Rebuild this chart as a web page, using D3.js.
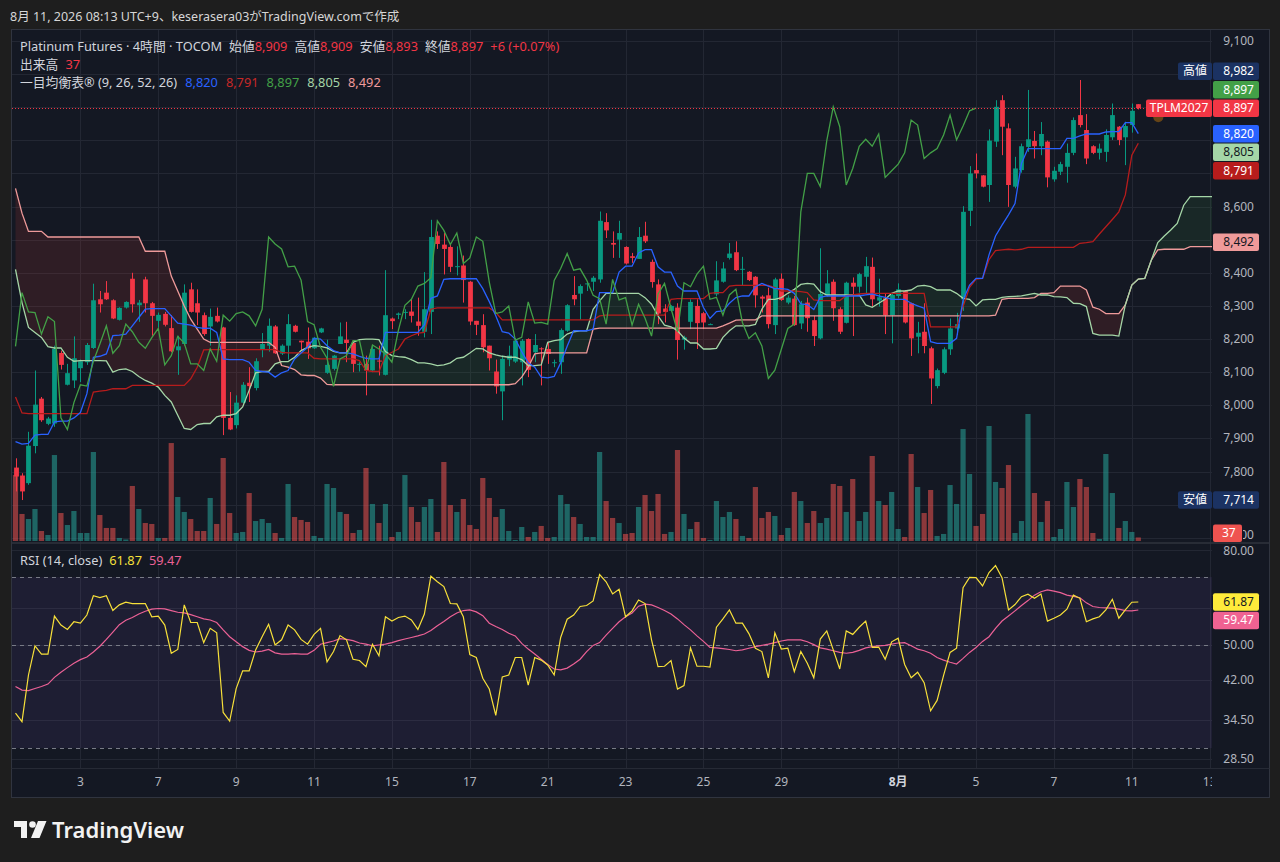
<!DOCTYPE html>
<html lang="ja">
<head>
<meta charset="utf-8">
<title>Platinum Futures 4h</title>
<script src="https://cdn.jsdelivr.net/npm/d3@7/dist/d3.min.js"></script>
<style>
  html, body { margin: 0; padding: 0; background: #1e1e1e; }
  svg { display: block; }
  text { font-family: "Noto Sans", "Noto Sans CJK JP", sans-serif; }
</style>
</head>
<body>
<svg id="chart" width="1280" height="862"></svg>
<script>
// ---- values, one entry per 4h bar (index 0 = first visible bar) ----
var opens = [
  7812, 7788, 7765, 7877, 8020, 7944, 7945, 8158, 8062, 8075,
  8112, 8130, 8173, 8320, 8340, 8317, 8258, 8295, 8382, 8302,
  8380, 8308, 8255, 8276, 8233, 8166, 8185, 8350, 8308, 8272,
  8238, 8270, 8235, 7962, 7940, 8008, 8068, 8052, 8168, 8180,
  8238, 8156, 8180, 8240, 8195, 8192, 8172, 8220, 8098, 8110,
  8185, 8198, 8188, 8122, 8125, 8105, 8135, 8092, 8262, 8273,
  8280, 8283, 8253, 8222, 8282, 8512, 8485, 8478, 8418, 8422,
  8373, 8255, 8242, 8180, 8102, 8042, 8138, 8132, 8130, 8200,
  8160, 8172, 8170, 8128, 8130, 8225, 8333, 8337, 8366, 8373,
  8380, 8553, 8490, 8500, 8478, 8450, 8442, 8512, 8433, 8365,
  8292, 8285, 8295, 8198, 8252, 8300, 8278, 8245, 8335, 8373,
  8445, 8462, 8410, 8403, 8388, 8328, 8332, 8242, 8382, 8310,
  8322, 8247, 8310, 8257, 8202, 8333, 8373, 8290, 8249, 8370,
  8358, 8388, 8418, 8316, 8323, 8272, 8330, 8345, 8308, 8207,
  8222, 8172, 8058, 8098, 8169, 8232, 8320, 8587, 8710, 8694,
  8665, 8796, 8921, 8836, 8660, 8710, 8780, 8798, 8782, 8796,
  8682, 8705, 8720, 8762, 8876, 8831, 8782, 8762, 8765, 8809,
  8841, 8809, 8846, 8909
];
var highs = [
  7840, 7795, 7920, 8105, 8025, 7965, 8180, 8165, 8125, 8208,
  8138, 8188, 8367, 8345, 8375, 8320, 8296, 8314, 8400, 8318,
  8388, 8312, 8280, 8282, 8272, 8210, 8365, 8370, 8350, 8280,
  8292, 8295, 8237, 8040, 8030, 8070, 8115, 8142, 8218, 8262,
  8242, 8184, 8275, 8243, 8195, 8235, 8206, 8234, 8198, 8152,
  8250, 8252, 8192, 8130, 8150, 8180, 8180, 8408, 8265, 8280,
  8290, 8320, 8325, 8402, 8560, 8525, 8520, 8485, 8480, 8452,
  8375, 8255, 8275, 8180, 8138, 8150, 8180, 8202, 8200, 8202,
  8215, 8175, 8190, 8138, 8232, 8305, 8390, 8365, 8375, 8390,
  8585, 8580, 8525, 8557, 8480, 8460, 8538, 8554, 8440, 8380,
  8305, 8302, 8308, 8210, 8320, 8320, 8282, 8247, 8435, 8432,
  8490, 8495, 8448, 8405, 8390, 8332, 8355, 8385, 8398, 8332,
  8330, 8315, 8325, 8270, 8474, 8408, 8380, 8296, 8373, 8386,
  8400, 8448, 8446, 8382, 8338, 8338, 8368, 8348, 8310, 8252,
  8308, 8177, 8111, 8175, 8262, 8279, 8601, 8722, 8760, 8695,
  8833, 8921, 8936, 8851, 8750, 8790, 8952, 8828, 8855, 8799,
  8720, 8735, 8790, 8869, 8982, 8879, 8785, 8790, 8833, 8911,
  8843, 8856, 8911, 8909
];
var lows = [
  7740, 7714, 7760, 7855, 7950, 7940, 7935, 8108, 8060, 8052,
  8070, 8122, 8170, 8280, 8318, 8260, 8256, 8292, 8280, 8252,
  8280, 8210, 8235, 8238, 8160, 8092, 8180, 8280, 8242, 8210,
  8180, 8250, 7910, 7925, 7930, 8005, 8010, 8045, 8145, 8162,
  8155, 8152, 8138, 8220, 8165, 8140, 8170, 8218, 8095, 8105,
  8185, 8130, 8100, 8102, 8030, 8100, 8090, 8090, 8230, 8260,
  8260, 8250, 8210, 8205, 8215, 8472, 8395, 8402, 8392, 8310,
  8242, 8212, 8160, 8105, 8035, 7955, 8118, 8128, 8060, 8085,
  8130, 8060, 8125, 8115, 8095, 8222, 8302, 8258, 8345, 8345,
  8370, 8505, 8445, 8445, 8425, 8430, 8442, 8490, 8355, 8245,
  8250, 8282, 8138, 8168, 8230, 8170, 8230, 8243, 8330, 8370,
  8440, 8405, 8362, 8375, 8295, 8280, 8232, 8215, 8315, 8305,
  8240, 8230, 8222, 8179, 8199, 8328, 8255, 8215, 8247, 8209,
  8340, 8338, 8298, 8298, 8215, 8187, 8323, 8247, 8149, 8157,
  8157, 8004, 8051, 8094, 8152, 8212, 8285, 8541, 8685, 8658,
  8614, 8780, 8755, 8599, 8655, 8702, 8765, 8745, 8755, 8658,
  8675, 8695, 8672, 8755, 8839, 8728, 8758, 8742, 8735, 8801,
  8785, 8725, 8823, 8893
];
var closes = [
  7785, 7740, 7878, 8002, 7955, 7960, 8170, 8122, 8097, 8142,
  8133, 8182, 8317, 8305, 8320, 8262, 8294, 8312, 8305, 8310,
  8308, 8270, 8273, 8243, 8163, 8178, 8340, 8282, 8280, 8215,
  8267, 8253, 7962, 7927, 8008, 8062, 8058, 8133, 8185, 8240,
  8157, 8180, 8245, 8222, 8190, 8172, 8204, 8232, 8122, 8150,
  8208, 8188, 8125, 8125, 8105, 8170, 8133, 8272, 8254, 8277,
  8282, 8270, 8240, 8290, 8508, 8487, 8472, 8418, 8420, 8378,
  8253, 8243, 8175, 8142, 8057, 8140, 8150, 8195, 8195, 8107,
  8182, 8170, 8155, 8130, 8227, 8302, 8320, 8360, 8368, 8385,
  8557, 8528, 8485, 8520, 8428, 8445, 8508, 8495, 8372, 8277,
  8282, 8300, 8197, 8205, 8312, 8248, 8250, 8245, 8377, 8413,
  8458, 8408, 8412, 8378, 8332, 8322, 8245, 8380, 8318, 8325,
  8242, 8305, 8263, 8209, 8336, 8368, 8293, 8222, 8370, 8358,
  8396, 8420, 8320, 8326, 8272, 8333, 8350, 8250, 8202, 8219,
  8179, 8081, 8106, 8169, 8232, 8245, 8584, 8700, 8700, 8660,
  8799, 8901, 8841, 8665, 8715, 8782, 8803, 8782, 8819, 8688,
  8708, 8728, 8762, 8861, 8846, 8745, 8762, 8775, 8816, 8876,
  8801, 8843, 8889, 8897
];
var volumes = [
  693, 284, 231, 336, 105, 63, 903, 294, 168, 315,
  84, 84, 935, 273, 137, 137, 32, 16, 578, 336,
  189, 179, 32, 32, 1029, 462, 305, 231, 105, 105,
  452, 179, 872, 294, 84, 95, 504, 210, 231, 189,
  84, 32, 599, 252, 221, 200, 53, 32, 599, 557,
  305, 284, 84, 116, 767, 389, 189, 389, 42, 95,
  693, 357, 200, 357, 441, 95, 830, 378, 305, 441,
  168, 126, 662, 452, 252, 336, 105, 11, 147, 42,
  95, 158, 32, 42, 483, 389, 252, 179, 42, 42,
  935, 420, 242, 189, 74, 84, 357, 483, 315, 494,
  74, 95, 956, 284, 126, 200, 32, 11, 420, 252,
  305, 231, 53, 32, 567, 242, 305, 263, 63, 137,
  515, 420, 189, 315, 189, 242, 599, 578, 305, 651,
  210, 305, 893, 420, 378, 515, 126, 42, 914, 567,
  294, 536, 53, 74, 588, 389, 1176, 704, 158, 284,
  1208, 620, 557, 798, 84, 210, 1334, 504, 200, 420,
  42, 126, 620, 357, 651, 567, 84, 21, 914, 504,
  137, 210, 95, 37
];
// Ichimoku (9, 26, 52, 26): conversion / base lines per bar
var tenkan = [
  7890, 7883, 7885, 7910, 7912, 7912, 7950, 7952, 7952, 7962,
  7978, 8035, 8145, 8148, 8155, 8210, 8212, 8215, 8240, 8265,
  8290, 8292, 8292, 8292, 8270, 8248, 8245, 8242, 8235, 8232,
  8233, 8220, 8140, 8138, 8138, 8138, 8130, 8105, 8102, 8100,
  8085, 8098, 8105, 8140, 8158, 8175, 8202, 8200, 8180, 8165,
  8158, 8158, 8155, 8148, 8142, 8140, 8140, 8220, 8220, 8220,
  8220, 8220, 8220, 8243, 8323, 8330, 8380, 8382, 8382, 8382,
  8382, 8382, 8352, 8313, 8270, 8222, 8218, 8200, 8162, 8128,
  8115, 8085, 8083, 8087, 8128, 8178, 8225, 8225, 8225, 8230,
  8340, 8340, 8340, 8402, 8420, 8420, 8460, 8470, 8470, 8418,
  8402, 8402, 8360, 8345, 8345, 8345, 8295, 8262, 8283, 8285,
  8308, 8325, 8330, 8330, 8358, 8368, 8360, 8352, 8352, 8350,
  8338, 8306, 8304, 8289, 8326, 8330, 8330, 8330, 8330, 8330,
  8330, 8333, 8336, 8330, 8326, 8320, 8320, 8320, 8308, 8300,
  8293, 8192, 8187, 8187, 8187, 8202, 8318, 8363, 8383, 8383,
  8454, 8511, 8544, 8575, 8609, 8730, 8775, 8775, 8775, 8775,
  8775, 8775, 8806, 8806, 8813, 8819, 8819, 8819, 8825, 8826,
  8826, 8853, 8853, 8820
];
var kijun = [
  8025, 7977, 7975, 7975, 7975, 7975, 7975, 7975, 7975, 7975,
  7975, 7975, 8040, 8043, 8045, 8050, 8050, 8050, 8060, 8060,
  8060, 8060, 8060, 8060, 8060, 8060, 8060, 8080, 8115, 8167,
  8168, 8168, 8168, 8168, 8168, 8168, 8168, 8168, 8168, 8168,
  8168, 8160, 8158, 8158, 8158, 8158, 8142, 8140, 8140, 8140,
  8140, 8140, 8140, 8135, 8105, 8102, 8102, 8150, 8160, 8170,
  8200, 8210, 8218, 8220, 8290, 8294, 8294, 8294, 8294, 8294,
  8294, 8294, 8294, 8294, 8280, 8258, 8258, 8258, 8258, 8258,
  8258, 8258, 8258, 8258, 8258, 8258, 8258, 8258, 8258, 8258,
  8270, 8272, 8272, 8272, 8272, 8272, 8272, 8272, 8272, 8272,
  8272, 8320, 8322, 8322, 8322, 8322, 8322, 8338, 8340, 8340,
  8360, 8362, 8362, 8362, 8362, 8362, 8362, 8355, 8345, 8345,
  8345, 8343, 8340, 8318, 8316, 8316, 8316, 8316, 8331, 8333,
  8336, 8338, 8338, 8338, 8338, 8338, 8338, 8338, 8338, 8338,
  8338, 8237, 8237, 8237, 8237, 8237, 8298, 8356, 8381, 8383,
  8440, 8467, 8469, 8471, 8469, 8471, 8477, 8477, 8477, 8477,
  8477, 8477, 8477, 8477, 8489, 8491, 8494, 8517, 8539, 8561,
  8584, 8635, 8755, 8791
];
// leading spans as plotted (already displaced 26 bars forward), indices 0..185
var spanA = [
  8410, 8310, 8235, 8220, 8205, 8177, 8173, 8173, 8145, 8133,
  8135, 8135, 8135, 8135, 8134, 8100, 8108, 8110, 8102, 8087,
  8075, 8067, 8055, 8030, 8010, 7970, 7930, 7927, 7942, 7945,
  7945, 7965, 7970, 7970, 7975, 7995, 8045, 8098, 8102, 8102,
  8125, 8132, 8132, 8145, 8165, 8175, 8180, 8178, 8173, 8163,
  8158, 8158, 8190, 8198, 8200, 8200, 8198, 8162, 8150, 8147,
  8145, 8138, 8128, 8128, 8125, 8120, 8122, 8128, 8142, 8145,
  8158, 8172, 8170, 8158, 8152, 8148, 8145, 8145, 8138, 8120,
  8120, 8122, 8190, 8195, 8198, 8215, 8222, 8225, 8225, 8290,
  8315, 8338, 8338, 8338, 8338, 8338, 8338, 8325, 8305, 8270,
  8242, 8237, 8225, 8203, 8188, 8188, 8170, 8170, 8172, 8205,
  8225, 8240, 8240, 8240, 8244, 8290, 8320, 8320, 8325, 8338,
  8350, 8365, 8368, 8366, 8343, 8333, 8333, 8333, 8333, 8333,
  8333, 8303, 8296, 8308, 8320, 8338, 8345, 8345, 8348, 8360,
  8362, 8358, 8348, 8348, 8348, 8338, 8323, 8320, 8300, 8318,
  8320, 8320, 8326, 8328, 8329, 8330, 8334, 8338, 8333, 8333,
  8328, 8327, 8325, 8308, 8307, 8298, 8217, 8212, 8212, 8212,
  8209, 8303, 8363, 8381, 8383, 8438, 8491, 8511, 8529, 8549,
  8604, 8630, 8630, 8630, 8630, 8630
];
var spanB = [
  8655, 8580, 8525, 8525, 8525, 8508, 8508, 8508, 8508, 8508,
  8508, 8508, 8508, 8508, 8508, 8508, 8508, 8508, 8508, 8508,
  8465, 8465, 8465, 8465, 8390, 8345, 8300, 8260, 8230, 8200,
  8190, 8190, 8190, 8190, 8190, 8190, 8190, 8190, 8190, 8190,
  8175, 8120, 8115, 8108, 8092, 8090, 8090, 8082, 8063, 8062,
  8062, 8062, 8062, 8062, 8062, 8062, 8062, 8062, 8062, 8062,
  8062, 8062, 8062, 8062, 8062, 8062, 8062, 8062, 8062, 8062,
  8062, 8062, 8062, 8062, 8062, 8062, 8062, 8065, 8085, 8115,
  8155, 8158, 8158, 8158, 8158, 8158, 8158, 8158, 8158, 8230,
  8233, 8233, 8233, 8233, 8233, 8233, 8233, 8233, 8233, 8233,
  8233, 8233, 8233, 8233, 8233, 8233, 8233, 8233, 8233, 8240,
  8248, 8257, 8258, 8258, 8258, 8270, 8270, 8270, 8270, 8270,
  8270, 8270, 8270, 8270, 8270, 8270, 8270, 8270, 8270, 8270,
  8270, 8270, 8270, 8270, 8270, 8270, 8270, 8270, 8270, 8270,
  8270, 8270, 8270, 8270, 8270, 8270, 8270, 8270, 8270, 8270,
  8270, 8272, 8320, 8323, 8323, 8323, 8323, 8325, 8338, 8338,
  8340, 8360, 8360, 8360, 8360, 8348, 8296, 8290, 8277, 8277,
  8277, 8303, 8363, 8381, 8383, 8438, 8469, 8471, 8471, 8471,
  8471, 8479, 8479, 8479, 8479, 8479
];
var chikouShift = 25;          // lagging span drawn 25 bars back
var spanALast = 8805, spanBLast = 8492;   // current (off-screen) leading span values from the legend

// RSI (14, close) and its 14-bar moving average
var rsi = [
  35.7, 34.2, 43.1, 49.8, 47.8, 47.8, 57.7, 55.2, 54.0, 56.1,
  55.7, 58.0, 63.8, 63.2, 63.8, 59.3, 61.0, 61.8, 61.4, 61.4,
  61.4, 57.5, 57.7, 55.2, 48.0, 48.9, 61.0, 55.9, 55.9, 50.6,
  54.3, 53.1, 35.8, 34.3, 40.3, 44.0, 44.0, 48.8, 52.1, 55.4,
  50.0, 51.3, 55.2, 53.9, 51.4, 50.2, 52.7, 54.3, 46.0, 48.4,
  52.4, 51.3, 46.6, 46.3, 44.9, 50.2, 47.4, 57.5, 56.3, 57.3,
  57.7, 56.6, 54.0, 58.3, 70.3, 68.4, 66.8, 61.4, 61.3, 57.5,
  47.7, 47.0, 42.4, 40.2, 35.3, 42.7, 43.1, 47.0, 47.0, 41.0,
  47.0, 46.4, 45.3, 43.1, 51.9, 56.8, 58.0, 60.5, 60.8, 62.2,
  70.9, 68.4, 64.4, 65.9, 57.5, 59.2, 62.5, 61.4, 51.3, 44.9,
  45.0, 46.3, 40.2, 40.9, 49.3, 45.0, 45.0, 44.8, 54.6, 56.9,
  59.5, 55.7, 55.7, 52.9, 49.2, 48.4, 42.5, 53.1, 49.0, 49.2,
  43.8, 48.4, 45.7, 42.5, 51.5, 53.6, 48.8, 44.4, 53.6, 52.7,
  54.6, 56.3, 49.4, 49.5, 46.6, 50.8, 51.7, 45.4, 42.5, 43.7,
  41.5, 36.1, 38.0, 43.0, 48.2, 49.2, 66.4, 69.9, 69.8, 67.0,
  71.6, 74.1, 69.8, 59.5, 61.1, 63.5, 64.3, 63.0, 64.4, 56.3,
  57.1, 58.0, 59.7, 64.0, 63.0, 56.1, 56.9, 57.5, 59.5, 62.7,
  57.1, 59.5, 61.8, 61.87
];
var rsiMa = [
  40.7, 40.0, 39.9, 40.3, 40.7, 41.2, 42.6, 43.7, 44.7, 45.7,
  46.5, 47.1, 48.3, 49.7, 51.4, 53.3, 55.3, 56.5, 57.3, 58.3,
  59.1, 59.7, 59.9, 59.8, 59.3, 58.8, 58.6, 58.1, 57.5, 56.9,
  56.6, 55.9, 53.9, 52.1, 50.8, 49.6, 48.7, 48.3, 48.5, 48.9,
  48.1, 47.8, 47.8, 47.9, 47.8, 47.8, 48.7, 50.2, 50.6, 51.0,
  51.6, 51.4, 51.1, 50.5, 50.2, 49.8, 50.0, 50.2, 50.6, 51.1,
  51.5, 51.9, 52.3, 52.8, 53.7, 55.0, 56.2, 57.5, 58.6, 59.3,
  59.5, 58.9, 57.8, 55.7, 54.8, 54.0, 53.0, 52.3, 50.4, 49.0,
  47.8, 46.6, 45.4, 44.4, 44.2, 44.6, 45.5, 46.6, 48.4, 49.9,
  50.6, 52.5, 54.3, 56.1, 57.5, 58.6, 60.6, 61.2, 61.0, 60.2,
  59.3, 58.3, 56.9, 55.3, 53.9, 52.3, 50.9, 49.4, 49.3, 49.1,
  48.9, 48.6, 48.8, 49.2, 49.6, 49.9, 50.2, 50.6, 51.0, 51.3,
  51.3, 51.3, 50.8, 50.1, 49.3, 49.0, 48.6, 48.2, 48.0, 48.2,
  48.7, 49.3, 49.6, 49.8, 49.9, 50.2, 50.5, 50.6, 49.8, 49.0,
  48.6, 48.0, 47.0, 46.4, 45.9, 45.5, 46.8, 48.2, 49.4, 50.9,
  52.1, 54.3, 56.3, 57.7, 59.2, 60.8, 62.3, 64.0, 65.1, 65.7,
  65.3, 64.8, 64.0, 63.6, 63.2, 61.6, 60.5, 60.2, 60.1, 60.0,
  59.7, 59.3, 59.2, 59.47
];
var rsiBands = [70, 50, 30];

// axis ticks
var dayTickIndex = [10, 22, 34, 46, 58, 70, 82, 94, 106, 118, 136, 148, 160, 172, 184];
var dayTickLabel = ["3", "7", "9", "11", "15", "17", "21", "23", "25", "29", "8月", "5", "7", "11", "13"];
var priceTicks = [7600, 7700, 7800, 7900, 8000, 8100, 8200, 8300, 8400, 8500, 8600, 8700, 8800, 8900, 9000, 9100];
var rsiTicks = [80, 60, 50, 42, 34.5, 28.5];

// ---- colours ----
var UP = "#089981", DOWN = "#f23645";
var C_TENKAN = "#2962ff", C_KIJUN = "#b71c1c", C_CHIKOU = "#43a047", C_SPANA = "#a5d6a7", C_SPANB = "#ef9a9a";
var C_RSI = "#f7e03a", C_RSIMA = "#ec6196";
var C_TEXT = "#d1d4dc", C_AXIS = "#b2b5be", C_GRID = "#232733";

var svg = d3.select("#chart");
var L = 12, R = 1212, TOP = 30, PB = 542, RT = 544, RB = 768, AB = 797;

var n = closes.length;
var x = d3.scaleLinear().domain([0, n - 1]).range([15.5, 1138.3]);
var yPrice = d3.scaleLinear().domain([7600, 9100]).range([537.8, 40.9]);
var yVol = d3.scaleLinear().domain([0, 1000]).range([541, 445.8]);
var yRsi = d3.scaleLog().domain([28.5, 80]).range([758.5, 550.1]);

// background + frame
svg.append("rect").attr("width", 1280).attr("height", 862).attr("fill", "#1e1e1e");
svg.append("rect").attr("x", 11.5).attr("y", 29.5).attr("width", 1258).attr("height", 768)
  .attr("fill", "#141823").attr("stroke", "#30343f");

svg.append("text").attr("x", 10).attr("y", 21).attr("font-size", 12.5).attr("fill", "#d6d6d6")
  .text("8月 11, 2026 08:13 UTC+9、keserasera03がTradingView.comで作成");

var defs = svg.append("defs");
defs.append("clipPath").attr("id", "clipPrice").append("rect")
  .attr("x", L).attr("y", TOP).attr("width", R - L).attr("height", PB - TOP);
defs.append("clipPath").attr("id", "clipRsi").append("rect")
  .attr("x", L).attr("y", RT).attr("width", R - L).attr("height", RB - RT);
defs.append("clipPath").attr("id", "clipAxis").append("rect")
  .attr("x", L).attr("y", RB).attr("width", R - L).attr("height", AB - RB);

// ---- grid ----
var grid = svg.append("g").attr("stroke", C_GRID).attr("stroke-width", 1);
grid.selectAll(".hp").data(priceTicks).enter().append("line")
  .attr("x1", L).attr("x2", R)
  .attr("y1", function (d) { return Math.round(yPrice(d)) + 0.5; })
  .attr("y2", function (d) { return Math.round(yPrice(d)) + 0.5; });
grid.selectAll(".hr").data(rsiTicks).enter().append("line")
  .attr("x1", L).attr("x2", R)
  .attr("y1", function (d) { return Math.round(yRsi(d)) + 0.5; })
  .attr("y2", function (d) { return Math.round(yRsi(d)) + 0.5; });
grid.selectAll(".v").data(dayTickIndex.filter(function (d) { return x(d) <= R; })).enter().append("line")
  .attr("x1", function (d) { return Math.round(x(d)) + 0.5; })
  .attr("x2", function (d) { return Math.round(x(d)) + 0.5; })
  .attr("y1", TOP).attr("y2", RB);

// pane separators
svg.append("line").attr("x1", 11.5).attr("x2", 1269.5).attr("y1", 543).attr("y2", 543)
  .attr("stroke", "#2f333e").attr("stroke-width", 1.5);
svg.append("line").attr("x1", 11.5).attr("x2", 1269.5).attr("y1", 768.5).attr("y2", 768.5)
  .attr("stroke", "#262a35");

// ---- price pane ----
var pane = svg.append("g").attr("clip-path", "url(#clipPrice)");
var bars = d3.range(n);

// volume
pane.append("g").selectAll("rect").data(bars).enter().append("rect")
  .attr("x", function (i) { return x(i) - 2.6; })
  .attr("width", 5.2)
  .attr("y", function (i) { return yVol(volumes[i]); })
  .attr("height", function (i) { return yVol(0) - yVol(volumes[i]); })
  .attr("fill", function (i) { return closes[i] >= opens[i] ? "#26a69a" : "#ef5350"; })
  .attr("fill-opacity", 0.55);

// cloud fill
var cloudIdx = d3.range(spanA.length);
var greenArea = d3.area()
  .x(function (i) { return x(i); })
  .y0(function (i) { return yPrice(Math.min(spanA[i], spanB[i])); })
  .y1(function (i) { return yPrice(spanA[i]); });
var redArea = d3.area()
  .x(function (i) { return x(i); })
  .y0(function (i) { return yPrice(Math.min(spanA[i], spanB[i])); })
  .y1(function (i) { return yPrice(spanB[i]); });
pane.append("path").datum(cloudIdx).attr("d", greenArea).attr("fill", "#43a047").attr("fill-opacity", 0.12);
pane.append("path").datum(cloudIdx).attr("d", redArea).attr("fill", "#f44336").attr("fill-opacity", 0.12);

// candles
var candles = pane.append("g").selectAll("g").data(bars).enter().append("g")
  .attr("fill", function (i) { return closes[i] >= opens[i] ? UP : DOWN; })
  .attr("stroke", function (i) { return closes[i] >= opens[i] ? UP : DOWN; });
candles.append("line")
  .attr("x1", function (i) { return Math.round(x(i)) + 0.5; })
  .attr("x2", function (i) { return Math.round(x(i)) + 0.5; })
  .attr("y1", function (i) { return yPrice(highs[i]); })
  .attr("y2", function (i) { return yPrice(lows[i]); })
  .attr("stroke-width", 1);
candles.append("rect")
  .attr("stroke", "none")
  .attr("x", function (i) { return Math.round(x(i)) + 0.5 - 2.4; })
  .attr("width", 4.8)
  .attr("y", function (i) { return yPrice(Math.max(opens[i], closes[i])); })
  .attr("height", function (i) { return Math.max(1, Math.abs(yPrice(opens[i]) - yPrice(closes[i]))); });

// ichimoku lines
function seriesLine(values) {
  return d3.line().x(function (d, i) { return x(i); }).y(function (d) { return yPrice(d); })(values);
}
pane.append("path").attr("d", seriesLine(spanB)).attr("fill", "none").attr("stroke", C_SPANB).attr("stroke-width", 1.3);
pane.append("path").attr("d", seriesLine(spanA)).attr("fill", "none").attr("stroke", C_SPANA).attr("stroke-width", 1.3);
pane.append("path").attr("d", seriesLine(kijun)).attr("fill", "none").attr("stroke", C_KIJUN).attr("stroke-width", 1.3);
pane.append("path").attr("d", seriesLine(tenkan)).attr("fill", "none").attr("stroke", C_TENKAN).attr("stroke-width", 1.3);
var chikou = closes.slice(chikouShift);
pane.append("path").attr("d", seriesLine(chikou)).attr("fill", "none").attr("stroke", C_CHIKOU).attr("stroke-width", 1.3);

// last price line
var last = closes[n - 1];
pane.append("line").attr("x1", L).attr("x2", R)
  .attr("y1", Math.round(yPrice(last)) + 0.5).attr("y2", Math.round(yPrice(last)) + 0.5)
  .attr("stroke", DOWN).attr("stroke-dasharray", "1,2").attr("stroke-width", 1);

// ---- RSI pane ----
var rp = svg.append("g").attr("clip-path", "url(#clipRsi)");
rp.append("rect").attr("x", L).attr("width", R - L)
  .attr("y", yRsi(rsiBands[0])).attr("height", yRsi(rsiBands[2]) - yRsi(rsiBands[0]))
  .attr("fill", "#7e57c2").attr("fill-opacity", 0.1);
rp.selectAll(".band").data(rsiBands).enter().append("line")
  .attr("x1", L).attr("x2", R)
  .attr("y1", function (d) { return Math.round(yRsi(d)) + 0.5; })
  .attr("y2", function (d) { return Math.round(yRsi(d)) + 0.5; })
  .attr("stroke", "#787b86").attr("stroke-dasharray", "4,4").attr("stroke-width", 1);
function rsiLine(values) {
  return d3.line().x(function (d, i) { return x(i); }).y(function (d) { return yRsi(d); })(values);
}
rp.append("path").attr("d", rsiLine(rsiMa)).attr("fill", "none").attr("stroke", C_RSIMA).attr("stroke-width", 1.2);
rp.append("path").attr("d", rsiLine(rsi)).attr("fill", "none").attr("stroke", C_RSI).attr("stroke-width", 1.2);

// ---- value labels on the right axis (positions resolved first, so ticks under them can be hidden) ----
var fmt = d3.format(",");
var GAP = 18.5, BH = 17.5;
function stack(list, anchor) {
  for (var k = anchor - 1; k >= 0; k--) list[k].y = Math.min(list[k].y, list[k + 1].y - GAP);
  for (var k2 = anchor + 1; k2 < list.length; k2++) list[k2].y = Math.max(list[k2].y, list[k2 - 1].y + GAP);
}
var hi = d3.max(highs), lo = d3.min(lows);
var priceLabels = [
  { v: hi, y: yPrice(hi), bg: "#1b3262", fg: "#ffffff", tag: "高値" },
  { v: last, y: yPrice(last), bg: C_CHIKOU, fg: "#ffffff" },
  { v: last, y: yPrice(last), bg: DOWN, fg: "#ffffff", tag: "TPLM2027", tagBg: DOWN },
  { v: tenkan[n - 1], y: yPrice(tenkan[n - 1]), bg: C_TENKAN, fg: "#ffffff" },
  { v: spanALast, y: yPrice(spanALast), bg: C_SPANA, fg: "#131722" },
  { v: kijun[n - 1], y: yPrice(kijun[n - 1]), bg: C_KIJUN, fg: "#ffffff" },
  { v: spanBLast, y: yPrice(spanBLast), bg: C_SPANB, fg: "#131722" },
  { v: lo, y: yPrice(lo), bg: "#1b3262", fg: "#ffffff", tag: "安値" }
];
stack(priceLabels, 2);
var vLast = volumes[n - 1];
var vy = Math.min(yVol(vLast), PB - BH / 2);
var rsiLabels = [
  { v: rsi[n - 1], y: yRsi(rsi[n - 1]), bg: "#ffeb3b", fg: "#131722" },
  { v: rsiMa[n - 1], y: yRsi(rsiMa[n - 1]), bg: "#f06292", fg: "#ffffff" }
];
stack(rsiLabels, 0);

function coveredBy(list, ty) {
  return list.some(function (d) { return Math.abs(d.y - ty) < BH / 2 + 6; });
}

// ---- axes ----
defs.append("clipPath").attr("id", "clipBehindVol").append("rect")
  .attr("x", 1243).attr("y", PB - 20).attr("width", 30).attr("height", 20);
svg.append("g").selectAll("text")
  .data(priceTicks.filter(function (d) { return !coveredBy(priceLabels, yPrice(d)); })).enter().append("text")
  .attr("x", 1254).attr("y", function (d) { return Math.min(yPrice(d) + 4, PB - 3); })
  .attr("text-anchor", "end").attr("font-size", 12).attr("fill", C_AXIS)
  .attr("clip-path", function (d) { return Math.abs(yPrice(d) - vy) < BH / 2 + 6 ? "url(#clipBehindVol)" : null; })
  .text(function (d) { return fmt(d); });
svg.append("g").selectAll("text")
  .data(rsiTicks.filter(function (d) { return !coveredBy(rsiLabels, yRsi(d)); })).enter().append("text")
  .attr("x", 1254).attr("y", function (d) { return Math.max(yRsi(d) + 4, RT + 11); })
  .attr("text-anchor", "end").attr("font-size", 12).attr("fill", C_AXIS)
  .text(function (d) { return d3.format(".2f")(d); });
svg.append("g").attr("clip-path", "url(#clipAxis)").selectAll("text").data(dayTickIndex).enter().append("text")
  .attr("x", function (d) { return x(d); }).attr("y", 786)
  .attr("text-anchor", "middle").attr("font-size", 12)
  .attr("fill", function (d, k) { return dayTickLabel[k] === "8月" ? "#d1d4dc" : C_AXIS; })
  .attr("font-weight", function (d, k) { return dayTickLabel[k] === "8月" ? "bold" : null; })
  .text(function (d, k) { return dayTickLabel[k]; });

// live dot next to the last bar
svg.append("circle").attr("cx", x(n - 1) + 20).attr("cy", yPrice(last) + 9).attr("r", 5)
  .attr("fill", "#ff9800").attr("fill-opacity", 0.35);

var lab = svg.append("g").attr("font-size", 12);
priceLabels.forEach(function (d) {
  lab.append("rect").attr("x", 1213).attr("y", d.y - BH / 2).attr("width", 46).attr("height", BH)
    .attr("rx", 2).attr("fill", d.bg);
  lab.append("text").attr("x", 1254).attr("y", d.y + 4).attr("text-anchor", "end")
    .attr("fill", d.fg).text(fmt(d.v));
  if (d.tag) {
    var w = d.tag.length > 2 ? 66 : 34;
    lab.append("rect").attr("x", 1212 - w).attr("y", d.y - BH / 2).attr("width", w).attr("height", BH)
      .attr("rx", 2).attr("fill", d.tagBg || d.bg);
    lab.append("text").attr("x", 1212 - w / 2).attr("y", d.y + 4).attr("text-anchor", "middle")
      .attr("fill", "#ffffff").text(d.tag);
  }
});
lab.append("rect").attr("x", 1213).attr("y", vy - BH / 2).attr("width", 29).attr("height", BH)
  .attr("rx", 2).attr("fill", "#ef5350");
lab.append("text").attr("x", 1222).attr("y", vy + 4).attr("fill", "#ffffff").text(vLast);
rsiLabels.forEach(function (d) {
  lab.append("rect").attr("x", 1213).attr("y", d.y - BH / 2).attr("width", 46).attr("height", BH)
    .attr("rx", 2).attr("fill", d.bg);
  lab.append("text").attr("x", 1254).attr("y", d.y + 4).attr("text-anchor", "end")
    .attr("fill", d.fg).text(d3.format(".2f")(d.v));
});

// ---- legends ----
var leg = svg.append("g").attr("font-size", 12.8).attr("fill", C_TEXT);
var l1 = leg.append("text").attr("x", 20).attr("y", 51);
l1.append("tspan").text("Platinum Futures · 4時間 · TOCOM");
[["始値", opens[n - 1]], ["高値", highs[n - 1]], ["安値", lows[n - 1]], ["終値", closes[n - 1]]].forEach(function (p) {
  l1.append("tspan").attr("dx", 7).text(p[0]);
  l1.append("tspan").attr("fill", DOWN).text(fmt(p[1]));
});
l1.append("tspan").attr("dx", 7).attr("fill", DOWN).text("+6 (+0.07%)");

var l2 = leg.append("text").attr("x", 20).attr("y", 69);
l2.append("tspan").text("出来高");
l2.append("tspan").attr("dx", 7).attr("fill", DOWN).text(volumes[n - 1]);

var l3 = leg.append("text").attr("x", 20).attr("y", 87);
l3.append("tspan").text("一目均衡表® (9, 26, 52, 26)");
[[tenkan[n - 1], C_TENKAN], [kijun[n - 1], "#c62828"], [last, C_CHIKOU], [spanALast, C_SPANA], [spanBLast, C_SPANB]].forEach(function (p) {
  l3.append("tspan").attr("dx", 8).attr("fill", p[1]).text(fmt(p[0]));
});

var l4 = leg.append("text").attr("x", 20).attr("y", 565);
l4.append("tspan").text("RSI (14, close)");
l4.append("tspan").attr("dx", 7).attr("fill", C_RSI).text(d3.format(".2f")(rsi[n - 1]));
l4.append("tspan").attr("dx", 7).attr("fill", C_RSIMA).text(d3.format(".2f")(rsiMa[n - 1]));

// ---- TradingView mark ----
var logo = svg.append("g").attr("fill", "#f2f2f2");
logo.append("path").attr("d", "M14,821 H27 V838 H21 V827 H14 Z");
logo.append("circle").attr("cx", 32.5).attr("cy", 824.5).attr("r", 3.3);
logo.append("path").attr("d", "M38,821 H46.5 L39.5,838 H31 Z");
logo.append("text").attr("x", 52).attr("y", 838).attr("font-size", 22).attr("font-weight", 600)
  .text("TradingView");
</script>
</body>
</html>
